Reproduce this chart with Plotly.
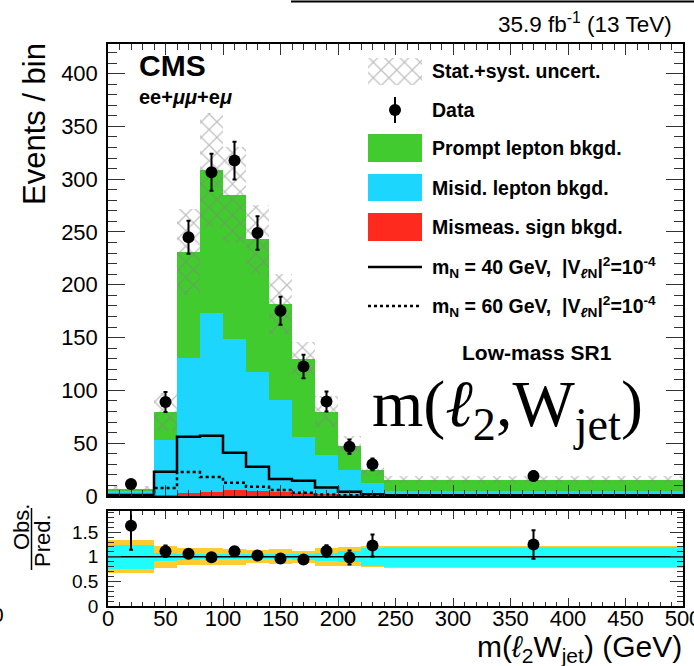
import plotly.graph_objects as go

# ---- binning in m(l2, W_jet) [GeV] ----
bin_edges = [0, 40, 60, 80, 100, 120, 140, 160, 180, 200, 220, 240, 500]

# ---- background predictions (events / bin) ----
mismeas_sign = [0.0, 0.5, 2.5, 4.0, 5.5, 5.0, 4.0, 3.0, 1.5, 0.8, 0.3, 0.2]
misid_lepton = [5.5, 52.5, 128.5, 169.0, 143.5, 112.6, 87.0, 53.0, 37.5, 24.2, 11.7, 4.5]
prompt_lepton = [1.5, 27.0, 100.0, 136.0, 136.0, 125.4, 91.0, 74.0, 41.0, 22.4, 12.4, 10.5]

# relative uncertainty of the total prediction (stat.+syst.) and stat. only
unc_total_rel = [0.335, 0.225, 0.175, 0.175, 0.16, 0.135, 0.155, 0.125, 0.185, 0.195, 0.215, 0.22]
unc_stat_rel = [0.245, 0.085, 0.06, 0.055, 0.05, 0.05, 0.05, 0.06, 0.08, 0.115, 0.18, 0.2]

# ---- observed data ----
data_obs = [11.4, 89.0, 245.0, 306.5, 317.6, 249.0, 175.4, 122.6, 89.4, 46.7, 30.0, 19.0]
data_err = [3.4, 9.5, 15.7, 17.5, 17.8, 15.8, 13.2, 11.1, 9.5, 6.8, 5.5, 4.4]

# ---- signal hypotheses, |V_lN|^2 = 1e-4 ----
signal_m40 = [1.0, 23.0, 56.0, 57.0, 41.0, 27.8, 16.0, 14.5, 8.0, 4.0, 1.6, 0.8]
signal_m60 = [0.6, 7.6, 22.7, 18.0, 12.6, 8.8, 5.7, 3.0, 1.5, 0.8, 0.4, 0.3]

# ---- tick labels ----
main_y_ticks = [0, 50, 100, 150, 200, 250, 300, 350, 400]
ratio_y_ticks = [0, 0.5, 1, 1.5]
ratio_y_labels = ["0", "0.5", "1", "1.5"]
x_ticks = [0, 50, 100, 150, 200, 250, 300, 350, 400, 450, 500]

# colours
C_PROMPT = "#42CB2E"
C_MISID = "#1CD6FD"
C_MISMEAS = "#FE2A1E"
C_RATIO_STAT = "#1EFCFC"
C_RATIO_TOT = "#FDCC30"
C_HATCH = "#828282"
FONT = "Liberation Sans"

centers = [(a + b) / 2 for a, b in zip(bin_edges[:-1], bin_edges[1:])]
widths = [b - a for a, b in zip(bin_edges[:-1], bin_edges[1:])]
base_misid = list(mismeas_sign)
base_prompt = [r + m for r, m in zip(mismeas_sign, misid_lepton)]
total = [b + p for b, p in zip(base_prompt, prompt_lepton)]
unc_abs = [t * u for t, u in zip(total, unc_total_rel)]

ratio = [o / t for o, t in zip(data_obs, total)]
ratio_err = [e / t for e, t in zip(data_err, total)]

W, H = 694, 666


def fx(p):
    return p / W


def fy(p):
    return 1 - p / H


HATCH = dict(shape="x", fgcolor=C_HATCH, size=11, solidity=0.22)

fig = go.Figure()

# ---- upper panel: stacked backgrounds ----
fig.add_trace(go.Bar(x=centers, y=mismeas_sign, base=[0] * len(centers), width=widths,
                     marker=dict(color=C_MISMEAS, line=dict(width=0)), xaxis="x", yaxis="y"))
fig.add_trace(go.Bar(x=centers, y=misid_lepton, base=base_misid, width=widths,
                     marker=dict(color=C_MISID, line=dict(width=0)), xaxis="x", yaxis="y"))
fig.add_trace(go.Bar(x=centers, y=prompt_lepton, base=base_prompt, width=widths,
                     marker=dict(color=C_PROMPT, line=dict(width=0)), xaxis="x", yaxis="y"))
# uncertainty band, hatched
fig.add_trace(go.Bar(x=centers, y=[2 * u for u in unc_abs],
                     base=[t - u for t, u in zip(total, unc_abs)], width=widths,
                     marker=dict(color="rgba(0,0,0,0)", line=dict(width=0), pattern=HATCH),
                     xaxis="x", yaxis="y"))

# signal step histograms
fig.add_trace(go.Scatter(x=bin_edges, y=signal_m40 + [signal_m40[-1]], mode="lines",
                         line=dict(color="black", width=2.5, shape="hv"), xaxis="x", yaxis="y"))
fig.add_trace(go.Scatter(x=bin_edges, y=signal_m60 + [signal_m60[-1]], mode="lines",
                         line=dict(color="black", width=2.5, shape="hv", dash="dot"),
                         xaxis="x", yaxis="y"))

# data
fig.add_trace(go.Scatter(x=centers, y=data_obs, mode="markers",
                         marker=dict(color="black", size=12),
                         error_y=dict(type="data", array=data_err, color="black", thickness=2, width=2),
                         xaxis="x", yaxis="y"))

# ---- lower panel: ratio ----
fig.add_trace(go.Bar(x=centers, y=[2 * u for u in unc_total_rel], base=[1 - u for u in unc_total_rel],
                     width=widths, marker=dict(color=C_RATIO_TOT, line=dict(width=0)),
                     xaxis="x2", yaxis="y2"))
fig.add_trace(go.Bar(x=centers, y=[2 * u for u in unc_stat_rel], base=[1 - u for u in unc_stat_rel],
                     width=widths, marker=dict(color=C_RATIO_STAT, line=dict(width=0)),
                     xaxis="x2", yaxis="y2"))
fig.add_trace(go.Scatter(x=[bin_edges[0], bin_edges[-1]], y=[1, 1], mode="lines",
                         line=dict(color="black", width=1.5), xaxis="x2", yaxis="y2"))
fig.add_trace(go.Scatter(x=centers, y=ratio, mode="markers",
                         marker=dict(color="black", size=12),
                         error_y=dict(type="data", array=ratio_err, color="black", thickness=2, width=2),
                         xaxis="x2", yaxis="y2"))

# ---- legend drawn in a pixel-space overlay ----
LX0, LX1 = 368, 422


def box(y0, y1):
    return [LX0, LX1, LX1, LX0, LX0], [y0, y0, y1, y1, y0]


bx, by = box(58, 85)
fig.add_trace(go.Scatter(x=bx, y=by, mode="lines", fill="toself", fillcolor="rgba(0,0,0,0)",
                         fillpattern=HATCH, line=dict(width=0), xaxis="x3", yaxis="y3"))
fig.add_trace(go.Scatter(x=[395], y=[110], mode="markers", marker=dict(color="black", size=12),
                         error_y=dict(type="data", array=[13], color="black", thickness=2, width=0),
                         xaxis="x3", yaxis="y3"))
for (y0, y1), col in zip([(134, 162), (174, 201), (213, 241)], [C_PROMPT, C_MISID, C_MISMEAS]):
    bx, by = box(y0, y1)
    fig.add_trace(go.Scatter(x=bx, y=by, mode="lines", fill="toself", fillcolor=col,
                             line=dict(width=0), xaxis="x3", yaxis="y3"))
fig.add_trace(go.Scatter(x=[LX0, LX1], y=[267, 267], mode="lines",
                         line=dict(color="black", width=2.5), xaxis="x3", yaxis="y3"))
fig.add_trace(go.Scatter(x=[LX0, LX1], y=[306, 306], mode="lines",
                         line=dict(color="black", width=2.5, dash="dot"), xaxis="x3", yaxis="y3"))

legend_texts = [
    "Stat.+syst. uncert.",
    "Data",
    "Prompt lepton bkgd.",
    "Misid. lepton bkgd.",
    "Mismeas. sign bkgd.",
    "m<sub>N</sub> = 40 GeV,  |V<sub><i>ℓ</i>N</sub>|<sup>2</sup>=10<sup>-4</sup>",
    "m<sub>N</sub> = 60 GeV,  |V<sub><i>ℓ</i>N</sub>|<sup>2</sup>=10<sup>-4</sup>",
]
legend_rows = [71, 110, 148, 188, 227, 267, 306]

annotations = []
for txt, yr in zip(legend_texts, legend_rows):
    annotations.append(dict(text="<b>" + txt + "</b>", x=fx(430), y=fy(yr),
                            xanchor="left", yanchor="middle",
                            font=dict(family=FONT, size=19.5, color="black")))

annotations += [
    dict(text="35.9 fb<sup>-1</sup> (13 TeV)", x=fx(674), y=fy(23), xanchor="right", yanchor="middle",
         font=dict(family=FONT, size=22.5, color="black")),
    dict(text="<b>CMS</b>", x=fx(137), y=fy(66), xanchor="left", yanchor="middle",
         font=dict(family=FONT, size=30, color="black")),
    dict(text="<b>ee+<i>μμ</i>+e<i>μ</i></b>", x=fx(137), y=fy(97), xanchor="left", yanchor="middle",
         font=dict(family=FONT, size=20, color="black")),
    dict(text="<b>Low-mass SR1</b>", x=fx(537), y=fy(352), xanchor="center", yanchor="middle",
         font=dict(family=FONT, size=21, color="black")),
    dict(text="m(<i>ℓ</i><sub>2</sub>,W<sub>jet</sub>)", x=fx(370), y=fy(408), xanchor="left",
         yanchor="middle", font=dict(family="Liberation Serif", size=66, color="black")),
    dict(text="Events / bin", x=fx(34), y=fy(124), xanchor="center", yanchor="middle", textangle=-90,
         font=dict(family=FONT, size=31, color="black")),
    dict(text="Obs.", x=fx(21), y=fy(527), xanchor="center", yanchor="middle", textangle=-90,
         font=dict(family=FONT, size=22, color="black")),
    dict(text="Pred.", x=fx(42), y=fy(541), xanchor="center", yanchor="middle", textangle=-90,
         font=dict(family=FONT, size=22, color="black")),
    dict(text="m(<i>ℓ</i><sub>2</sub>W<sub>jet</sub>) (GeV)", x=fx(684), y=fy(648), xanchor="right",
         yanchor="middle", font=dict(family=FONT, size=30, color="black")),
    dict(text="0", x=0, y=fy(614), xanchor="center", yanchor="middle", xshift=-2,
         font=dict(family=FONT, size=21, color="black")),
]
for a in annotations:
    a.setdefault("xref", "paper")
    a.setdefault("yref", "paper")
    a["showarrow"] = False

shapes = [
    dict(type="line", xref="paper", yref="paper", x0=fx(31.5), x1=fx(31.5), y0=fy(508), y1=fy(570),
         line=dict(color="black", width=1.5)),
    dict(type="line", xref="paper", yref="paper", x0=fx(291), x1=1, y0=fy(1.5), y1=fy(1.5),
         line=dict(color="black", width=2)),
]

frame = dict(showline=True, linecolor="black", linewidth=1.5, mirror="allticks", ticks="inside",
             tickcolor="#333", tickwidth=1, showgrid=False, zeroline=False, automargin=False,
             tickfont=dict(family=FONT, size=22, color="black"))

xdom = [fx(108), fx(683)]

fig.update_layout(
    width=W, height=H, margin=dict(l=0, r=0, t=0, b=0, pad=0), autosize=False,
    paper_bgcolor="white", plot_bgcolor="rgba(0,0,0,0)",
    showlegend=False, barmode="overlay", bargap=0,
    annotations=annotations, shapes=shapes,
    xaxis=dict(frame, domain=xdom, anchor="y", range=[0, 500], tickvals=x_ticks, showticklabels=False,
               ticklen=11, minor=dict(dtick=10, ticklen=6, ticks="inside", tickcolor="#333")),
    yaxis=dict(frame, domain=[fy(496), fy(44)], anchor="x", range=[0, 428], tickvals=main_y_ticks,
               ticklen=17, ticklabelstandoff=4,
               minor=dict(dtick=10, ticklen=9, ticks="inside", tickcolor="#333")),
    xaxis2=dict(frame, domain=xdom, anchor="y2", range=[0, 500], tickvals=x_ticks, ticklen=8,
                ticklabelstandoff=-8, ticklabeloverflow="allow",
                minor=dict(dtick=10, ticklen=4, ticks="inside", tickcolor="#333")),
    yaxis2=dict(frame, domain=[fy(606), fy(511)], anchor="x2", range=[0, 1.93], tickvals=ratio_y_ticks,
                ticktext=ratio_y_labels, ticklen=13, ticklabelstandoff=4,
                tickfont=dict(family=FONT, size=19, color="black"),
                minor=dict(dtick=0.1, ticklen=6, ticks="inside", tickcolor="#333")),
    xaxis3=dict(domain=[0, 1], anchor="y3", range=[0, W], visible=False, fixedrange=True,
                automargin=False),
    yaxis3=dict(domain=[0, 1], anchor="x3", range=[H, 0], visible=False, fixedrange=True,
                automargin=False),
)

fig.write_html("out.html")
